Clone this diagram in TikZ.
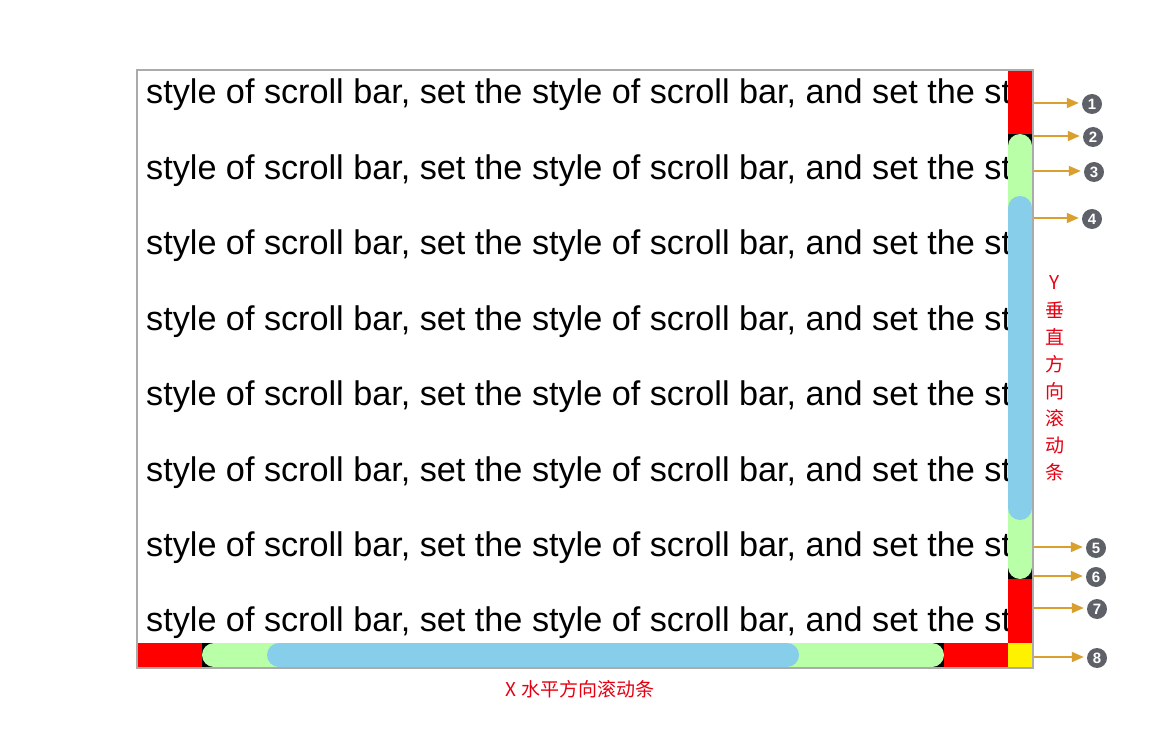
\documentclass[tikz,border=0pt]{standalone}
\usepackage{fontspec}
\setmainfont{Liberation Sans}
\newfontfamily\cjk{Noto Sans CJK SC}
\usetikzlibrary{arrows.meta}
\definecolor{trackgreen}{HTML}{B8FFA8}
\definecolor{thumbblue}{HTML}{87CEEB}
\definecolor{framegray}{HTML}{ABABAB}
\definecolor{arrowgold}{HTML}{D9A030}
\definecolor{badgegray}{HTML}{5F6168}
\definecolor{labelred}{HTML}{E60012}
\tikzset{
  bodytext/.style={anchor=base west, inner sep=0pt, font=\fontsize{34.2}{40}\selectfont},
  badge/.style={circle, fill=badgegray, text=white, inner sep=0pt, minimum size=20pt,
    font=\fontsize{15}{15}\selectfont\bfseries},
  pointer/.style={draw=arrowgold, line width=1.8pt, shorten >=3pt,
    -{Triangle[length=12pt,width=10pt]}},
  redlabel/.style={text=labelred, inner sep=0pt, font=\cjk\fontsize{19}{19}\selectfont},
}
\begin{document}
\begin{tikzpicture}[x=1pt,y=-1pt]
\useasboundingbox (0,0) rectangle (1168,730);
% text lines, clipped at the scroll bar
\begin{scope}
  \clip (138,71) rectangle (1008,643);
  \foreach \i in {0,...,7}{
    \node[bodytext] (line\i) at (146,{104+75.4*\i})
      {style of scroll bar, set the style of scroll bar, and set the st};
  }
\end{scope}
% vertical scroll bar
\fill[red] (1008,71) rectangle (1032,134);
\fill[black] (1008,134) rectangle (1032,579);
\fill[trackgreen, rounded corners=12pt] (1008,134) rectangle (1032,579);
\fill[thumbblue, rounded corners=12pt] (1008,196) rectangle (1032,520);
\fill[red] (1008,579) rectangle (1032,643);
\fill[yellow] (1008,643) rectangle (1032,667);
% horizontal scroll bar
\fill[red] (138,643) rectangle (202,667);
\fill[black] (202,643) rectangle (944,667);
\fill[trackgreen, rounded corners=12pt] (202,643) rectangle (944,667);
\fill[thumbblue, rounded corners=12pt] (267,643) rectangle (799,667);
\fill[red] (944,643) rectangle (1008,667);
% frame
\draw[framegray, line width=2pt] (137,70) rectangle (1033,668);
% pointers and badges
\foreach \n/\y/\cx in {1/103/1092, 2/136/1093, 3/171/1094, 4/218/1092,
                       5/547/1096, 6/576/1096, 7/608/1097, 8/657/1097}{
  \coordinate (p\n) at (1034,\y);
  \node[badge] (b\n) at (\cx,\y+1) {\n};
  \draw[pointer] (p\n) -- (p\n -| b\n.west);
}
% labels
\foreach \c [count=\k from 0] in {Y,垂,直,方,向,滚,动,条}{
  \node[redlabel] (ych\k) at (1055,{283+27*\k}) {\c};
}
\node[redlabel] (xlabel) at (580,689) {X 水平方向滚动条};
\end{tikzpicture}
\end{document}
